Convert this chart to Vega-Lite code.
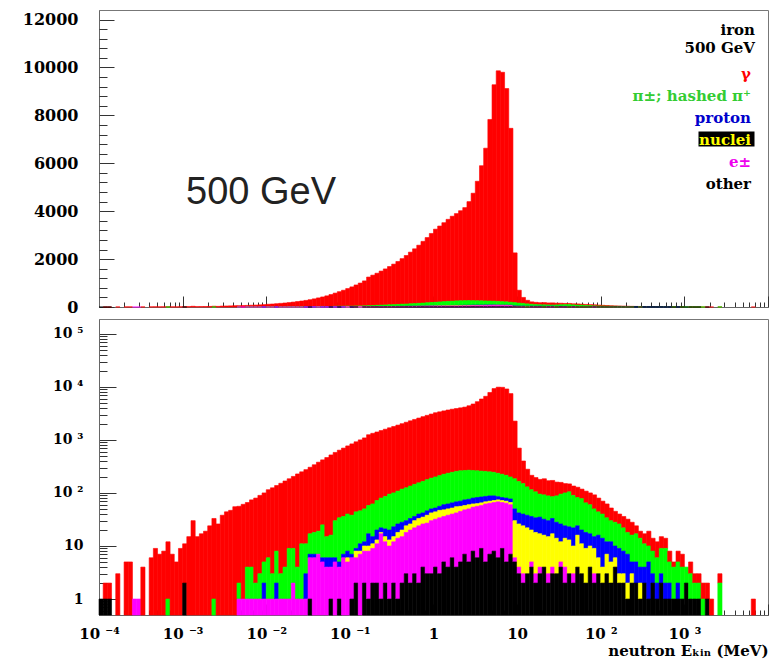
{
  "$schema": "https://vega.github.io/schema/vega-lite/v6.json",
  "padding": {"left": 21, "top": 9, "right": 4, "bottom": 2},
  "background": "white",
  "bounds": "flush",
  "spacing": 12,
  "config": {
    "view": {"stroke": "#777", "strokeWidth": 1},
    "axis": {"grid": false, "domainColor": "#666", "tickColor": "#333", "tickWidth": 1, "labelFont": "DejaVu Serif", "labelFontWeight": "bold", "labelColor": "#000", "titleFont": "DejaVu Serif", "titleFontWeight": "bold", "titleColor": "#000", "labelOverlap": false, "labelFlush": false, "labelBound": false}
  },
  "datasets": {
    "ranks": [{"src": "o", "r": 1}, {"src": "e", "r": 2}, {"src": "n", "r": 3}, {"src": "p", "r": 4}, {"src": "pi", "r": 5}, {"src": "g", "r": 6}],
    "hist": [
      {"lo":1e-4,"hi":1.122e-4,"g":0,"pi":0,"p":0,"n":0,"e":0,"o":1},
      {"lo":1.122e-4,"hi":1.259e-4,"g":1,"pi":0,"p":0,"n":0,"e":0,"o":1},
      {"lo":1.259e-4,"hi":1.413e-4,"g":1,"pi":0,"p":0,"n":0,"e":0,"o":1},
      {"lo":1.585e-4,"hi":1.778e-4,"g":3,"pi":0,"p":0,"n":0,"e":0,"o":0},
      {"lo":1.995e-4,"hi":2.239e-4,"g":5,"pi":0,"p":0,"n":0,"e":0,"o":0},
      {"lo":2.239e-4,"hi":2.512e-4,"g":5,"pi":0,"p":0,"n":0,"e":0,"o":0},
      {"lo":2.512e-4,"hi":2.818e-4,"g":0,"pi":0,"p":0,"n":0,"e":1,"o":0},
      {"lo":2.818e-4,"hi":3.162e-4,"g":0,"pi":0,"p":0,"n":0,"e":1,"o":0},
      {"lo":3.162e-4,"hi":3.548e-4,"g":4,"pi":0,"p":0,"n":0,"e":0,"o":0},
      {"lo":3.981e-4,"hi":4.467e-4,"g":6,"pi":0,"p":0,"n":0,"e":0,"o":0},
      {"lo":4.467e-4,"hi":5.012e-4,"g":9,"pi":0,"p":0,"n":0,"e":0,"o":0},
      {"lo":5.012e-4,"hi":5.623e-4,"g":7,"pi":0,"p":0,"n":0,"e":0,"o":0},
      {"lo":5.623e-4,"hi":6.31e-4,"g":8,"pi":0,"p":0,"n":0,"e":0,"o":0},
      {"lo":6.31e-4,"hi":7.079e-4,"g":11,"pi":1,"p":0,"n":0,"e":0,"o":0},
      {"lo":7.079e-4,"hi":7.943e-4,"g":7,"pi":0,"p":0,"n":0,"e":0,"o":0},
      {"lo":7.943e-4,"hi":8.913e-4,"g":5,"pi":0,"p":0,"n":0,"e":0,"o":0},
      {"lo":8.913e-4,"hi":1e-3,"g":9,"pi":0,"p":0,"n":0,"e":0,"o":0},
      {"lo":1e-3,"hi":1.122e-3,"g":9,"pi":0,"p":0,"n":0,"e":0,"o":2},
      {"lo":1.122e-3,"hi":1.259e-3,"g":15,"pi":0,"p":0,"n":0,"e":0,"o":0},
      {"lo":1.259e-3,"hi":1.413e-3,"g":30,"pi":0,"p":0,"n":0,"e":0,"o":0},
      {"lo":1.413e-3,"hi":1.585e-3,"g":15,"pi":0,"p":0,"n":0,"e":0,"o":0},
      {"lo":1.585e-3,"hi":1.778e-3,"g":17,"pi":0,"p":0,"n":0,"e":0,"o":0},
      {"lo":1.778e-3,"hi":1.995e-3,"g":19,"pi":0,"p":0,"n":0,"e":0,"o":0},
      {"lo":1.995e-3,"hi":2.239e-3,"g":24,"pi":0,"p":0,"n":0,"e":0,"o":0},
      {"lo":2.239e-3,"hi":2.512e-3,"g":32,"pi":1,"p":0,"n":0,"e":0,"o":0},
      {"lo":2.512e-3,"hi":2.818e-3,"g":26,"pi":0,"p":0,"n":0,"e":0,"o":0},
      {"lo":2.818e-3,"hi":3.162e-3,"g":38,"pi":0,"p":0,"n":0,"e":0,"o":0},
      {"lo":3.162e-3,"hi":3.548e-3,"g":44,"pi":0,"p":0,"n":0,"e":0,"o":0},
      {"lo":3.548e-3,"hi":3.981e-3,"g":47,"pi":0,"p":0,"n":0,"e":0,"o":0},
      {"lo":3.981e-3,"hi":4.467e-3,"g":55,"pi":0,"p":0,"n":0,"e":0,"o":0},
      {"lo":4.467e-3,"hi":5.012e-3,"g":54,"pi":1,"p":0,"n":0,"e":1,"o":0},
      {"lo":5.012e-3,"hi":5.623e-3,"g":60,"pi":0,"p":0,"n":0,"e":1,"o":0},
      {"lo":5.623e-3,"hi":6.31e-3,"g":62,"pi":3,"p":0,"n":0,"e":1,"o":0},
      {"lo":6.31e-3,"hi":7.079e-3,"g":70,"pi":3,"p":0,"n":0,"e":1,"o":0},
      {"lo":7.079e-3,"hi":7.943e-3,"g":78,"pi":1,"p":0,"n":0,"e":1,"o":0},
      {"lo":7.943e-3,"hi":8.913e-3,"g":87,"pi":2,"p":0,"n":0,"e":1,"o":0},
      {"lo":8.913e-3,"hi":1e-2,"g":95,"pi":3,"p":1,"n":0,"e":1,"o":0},
      {"lo":1e-2,"hi":1.122e-2,"g":109,"pi":5,"p":0,"n":0,"e":1,"o":0},
      {"lo":1.122e-2,"hi":1.259e-2,"g":122,"pi":2,"p":0,"n":0,"e":1,"o":0},
      {"lo":1.259e-2,"hi":1.413e-2,"g":130,"pi":6,"p":1,"n":0,"e":1,"o":0},
      {"lo":1.413e-2,"hi":1.585e-2,"g":149,"pi":2,"p":0,"n":0,"e":1,"o":0},
      {"lo":1.585e-2,"hi":1.778e-2,"g":164,"pi":3,"p":0,"n":0,"e":1,"o":0},
      {"lo":1.778e-2,"hi":1.995e-2,"g":176,"pi":8,"p":0,"n":0,"e":1,"o":0},
      {"lo":1.995e-2,"hi":2.239e-2,"g":196,"pi":7,"p":0,"n":0,"e":2,"o":0},
      {"lo":2.239e-2,"hi":2.512e-2,"g":224,"pi":3,"p":0,"n":0,"e":1,"o":0},
      {"lo":2.512e-2,"hi":2.818e-2,"g":239,"pi":10,"p":0,"n":0,"e":1,"o":0},
      {"lo":2.818e-2,"hi":3.162e-2,"g":264,"pi":8,"p":2,"n":0,"e":1,"o":0},
      {"lo":3.162e-2,"hi":3.548e-2,"g":288,"pi":10,"p":1,"n":0,"e":5,"o":1},
      {"lo":3.548e-2,"hi":3.981e-2,"g":322,"pi":11,"p":1,"n":0,"e":6,"o":0},
      {"lo":3.981e-2,"hi":4.467e-2,"g":361,"pi":12,"p":0,"n":0,"e":7,"o":0},
      {"lo":4.467e-2,"hi":5.012e-2,"g":395,"pi":19,"p":1,"n":0,"e":5,"o":0},
      {"lo":5.012e-2,"hi":5.623e-2,"g":450,"pi":9,"p":2,"n":0,"e":4,"o":0},
      {"lo":5.623e-2,"hi":6.31e-2,"g":504,"pi":10,"p":2,"n":0,"e":3,"o":1},
      {"lo":6.31e-2,"hi":7.079e-2,"g":550,"pi":24,"p":1,"n":0,"e":5,"o":0},
      {"lo":7.079e-2,"hi":7.943e-2,"g":606,"pi":29,"p":1,"n":0,"e":3,"o":1},
      {"lo":7.943e-2,"hi":8.913e-2,"g":664,"pi":29,"p":1,"n":0,"e":6,"o":0},
      {"lo":8.913e-2,"hi":0.1,"g":730,"pi":32,"p":2,"n":1,"e":5,"o":0},
      {"lo":0.1,"hi":0.1122,"g":802,"pi":31,"p":1,"n":0,"e":5,"o":1},
      {"lo":0.1122,"hi":0.1259,"g":876,"pi":35,"p":1,"n":2,"e":4,"o":2},
      {"lo":0.1259,"hi":0.1413,"g":954,"pi":35,"p":3,"n":1,"e":7,"o":0},
      {"lo":0.1413,"hi":0.1585,"g":1040,"pi":38,"p":2,"n":2,"e":6,"o":2},
      {"lo":0.1585,"hi":0.1778,"g":1192,"pi":41,"p":7,"n":2,"e":7,"o":1},
      {"lo":0.1778,"hi":0.1995,"g":1268,"pi":47,"p":4,"n":2,"e":7,"o":2},
      {"lo":0.1995,"hi":0.2239,"g":1338,"pi":52,"p":7,"n":2,"e":9,"o":2},
      {"lo":0.2239,"hi":0.2512,"g":1420,"pi":58,"p":4,"n":1,"e":16,"o":1},
      {"lo":0.2512,"hi":0.2818,"g":1504,"pi":65,"p":6,"n":3,"e":10,"o":2},
      {"lo":0.2818,"hi":0.3162,"g":1595,"pi":75,"p":7,"n":3,"e":9,"o":1},
      {"lo":0.3162,"hi":0.3548,"g":1690,"pi":77,"p":8,"n":3,"e":10,"o":2},
      {"lo":0.3548,"hi":0.3981,"g":1792,"pi":82,"p":8,"n":4,"e":13,"o":1},
      {"lo":0.3981,"hi":0.4467,"g":1902,"pi":90,"p":8,"n":5,"e":13,"o":2},
      {"lo":0.4467,"hi":0.5012,"g":2025,"pi":95,"p":6,"n":6,"e":15,"o":3},
      {"lo":0.5012,"hi":0.5623,"g":2155,"pi":102,"p":7,"n":6,"e":18,"o":2},
      {"lo":0.5623,"hi":0.631,"g":2285,"pi":109,"p":6,"n":8,"e":19,"o":3},
      {"lo":0.631,"hi":0.7079,"g":2425,"pi":115,"p":7,"n":9,"e":22,"o":2},
      {"lo":0.7079,"hi":0.7943,"g":2575,"pi":123,"p":7,"n":9,"e":22,"o":4},
      {"lo":0.7943,"hi":0.8913,"g":2722,"pi":132,"p":8,"n":11,"e":24,"o":3},
      {"lo":0.8913,"hi":1,"g":2880,"pi":140,"p":8,"n":12,"e":27,"o":3},
      {"lo":1,"hi":1.122,"g":3050,"pi":148,"p":8,"n":12,"e":28,"o":4},
      {"lo":1.122,"hi":1.259,"g":3168,"pi":156,"p":9,"n":13,"e":31,"o":3},
      {"lo":1.259,"hi":1.413,"g":3295,"pi":165,"p":12,"n":12,"e":31,"o":5},
      {"lo":1.413,"hi":1.585,"g":3425,"pi":173,"p":12,"n":12,"e":34,"o":4},
      {"lo":1.585,"hi":1.778,"g":3545,"pi":180,"p":13,"n":12,"e":34,"o":6},
      {"lo":1.778,"hi":1.995,"g":3645,"pi":187,"p":13,"n":13,"e":38,"o":4},
      {"lo":1.995,"hi":2.239,"g":3758,"pi":192,"p":14,"n":11,"e":40,"o":5},
      {"lo":2.239,"hi":2.512,"g":3885,"pi":191,"p":16,"n":10,"e":41,"o":7},
      {"lo":2.512,"hi":2.818,"g":4132,"pi":192,"p":16,"n":10,"e":45,"o":5},
      {"lo":2.818,"hi":3.162,"g":4485,"pi":185,"p":18,"n":8,"e":46,"o":8},
      {"lo":3.162,"hi":3.548,"g":4988,"pi":180,"p":19,"n":7,"e":50,"o":6},
      {"lo":3.548,"hi":3.981,"g":5642,"pi":174,"p":19,"n":7,"e":49,"o":9},
      {"lo":3.981,"hi":4.467,"g":6375,"pi":169,"p":18,"n":6,"e":57,"o":5},
      {"lo":4.467,"hi":5.012,"g":7580,"pi":162,"p":18,"n":6,"e":57,"o":7},
      {"lo":5.012,"hi":5.623,"g":9035,"pi":157,"p":16,"n":6,"e":58,"o":8},
      {"lo":5.623,"hi":6.31,"g":9625,"pi":150,"p":11,"n":6,"e":62,"o":6},
      {"lo":6.31,"hi":7.079,"g":9575,"pi":143,"p":10,"n":6,"e":57,"o":9},
      {"lo":7.079,"hi":7.943,"g":8905,"pi":135,"p":10,"n":6,"e":59,"o":5},
      {"lo":7.943,"hi":8.913,"g":7260,"pi":123,"p":11,"n":6,"e":53,"o":7},
      {"lo":8.913,"hi":10,"g":2075,"pi":135,"p":20,"n":24,"e":1,"o":5},
      {"lo":10,"hi":11.22,"g":535,"pi":123,"p":16,"n":22,"e":1,"o":3},
      {"lo":11.22,"hi":12.59,"g":250,"pi":110,"p":16,"n":21,"e":1,"o":2},
      {"lo":12.59,"hi":14.13,"g":150,"pi":92,"p":16,"n":19,"e":0,"o":3},
      {"lo":14.13,"hi":15.85,"g":100,"pi":79,"p":16,"n":15,"e":1,"o":4},
      {"lo":15.85,"hi":17.78,"g":90,"pi":71,"p":16,"n":15,"e":1,"o":2},
      {"lo":17.78,"hi":19.95,"g":85,"pi":60,"p":18,"n":13,"e":1,"o":3},
      {"lo":19.95,"hi":22.39,"g":93,"pi":60,"p":16,"n":12,"e":0,"o":4},
      {"lo":22.39,"hi":25.12,"g":82,"pi":58,"p":15,"n":12,"e":1,"o":2},
      {"lo":25.12,"hi":28.18,"g":87,"pi":52,"p":16,"n":13,"e":1,"o":3},
      {"lo":28.18,"hi":31.62,"g":72,"pi":60,"p":14,"n":11,"e":0,"o":3},
      {"lo":31.62,"hi":35.48,"g":63,"pi":69,"p":14,"n":7,"e":1,"o":4},
      {"lo":35.48,"hi":39.81,"g":50,"pi":76,"p":10,"n":10,"e":2,"o":2},
      {"lo":39.81,"hi":44.67,"g":43,"pi":82,"p":10,"n":10,"e":0,"o":3},
      {"lo":44.67,"hi":50.12,"g":45,"pi":68,"p":12,"n":7,"e":1,"o":2},
      {"lo":50.12,"hi":56.23,"g":46,"pi":58,"p":8,"n":12,"e":0,"o":4},
      {"lo":56.23,"hi":63.1,"g":40,"pi":58,"p":9,"n":8,"e":0,"o":3},
      {"lo":63.1,"hi":70.79,"g":43,"pi":47,"p":9,"n":7,"e":0,"o":2},
      {"lo":70.79,"hi":79.43,"g":40,"pi":43,"p":7,"n":6,"e":0,"o":4},
      {"lo":79.43,"hi":89.13,"g":42,"pi":35,"p":6,"n":6,"e":1,"o":2},
      {"lo":89.13,"hi":100,"g":36,"pi":28,"p":10,"n":3,"e":0,"o":3},
      {"lo":100,"hi":112.2,"g":30,"pi":26,"p":10,"n":2,"e":0,"o":2},
      {"lo":112.2,"hi":125.9,"g":28,"pi":22,"p":5,"n":4,"e":0,"o":3},
      {"lo":125.9,"hi":141.3,"g":22,"pi":18,"p":7,"n":3,"e":0,"o":2},
      {"lo":141.3,"hi":158.5,"g":17,"pi":18,"p":4,"n":2,"e":0,"o":4},
      {"lo":158.5,"hi":177.8,"g":14,"pi":17,"p":6,"n":1,"e":0,"o":2},
      {"lo":177.8,"hi":199.5,"g":14,"pi":14,"p":5,"n":1,"e":0,"o":2},
      {"lo":199.5,"hi":223.9,"g":14,"pi":11,"p":5,"n":1,"e":0,"o":1},
      {"lo":223.9,"hi":251.2,"g":12,"pi":11,"p":2,"n":1,"e":0,"o":2},
      {"lo":251.2,"hi":281.8,"g":7,"pi":12,"p":3,"n":0,"e":0,"o":2},
      {"lo":281.8,"hi":316.2,"g":5,"pi":10,"p":2,"n":1,"e":0,"o":1},
      {"lo":316.2,"hi":354.8,"g":6,"pi":7,"p":2,"n":0,"e":0,"o":2},
      {"lo":354.8,"hi":398.1,"g":9,"pi":5,"p":4,"n":0,"e":0,"o":1},
      {"lo":398.1,"hi":446.7,"g":6,"pi":5,"p":1,"n":0,"e":0,"o":2},
      {"lo":446.7,"hi":501.2,"g":6,"pi":4,"p":1,"n":0,"e":0,"o":1},
      {"lo":501.2,"hi":562.3,"g":6,"pi":6,"p":1,"n":0,"e":0,"o":2},
      {"lo":562.3,"hi":631,"g":5,"pi":7,"p":1,"n":0,"e":0,"o":1},
      {"lo":631,"hi":707.9,"g":3,"pi":3,"p":1,"n":0,"e":0,"o":1},
      {"lo":707.9,"hi":794.3,"g":1,"pi":3,"p":0,"n":0,"e":0,"o":1},
      {"lo":794.3,"hi":891.3,"g":3,"pi":3,"p":1,"n":0,"e":0,"o":1},
      {"lo":891.3,"hi":1000,"g":3,"pi":3,"p":0,"n":0,"e":0,"o":1},
      {"lo":1000,"hi":1122,"g":0,"pi":2,"p":0,"n":0,"e":0,"o":2},
      {"lo":1122,"hi":1259,"g":2,"pi":2,"p":0,"n":0,"e":0,"o":1},
      {"lo":1259,"hi":1413,"g":1,"pi":1,"p":0,"n":0,"e":0,"o":1},
      {"lo":1413,"hi":1585,"g":1,"pi":1,"p":0,"n":0,"e":0,"o":1},
      {"lo":1585,"hi":1778,"g":1,"pi":1,"p":0,"n":0,"e":0,"o":0},
      {"lo":1778,"hi":1995,"g":1,"pi":0,"p":0,"n":0,"e":0,"o":1},
      {"lo":1995,"hi":2239,"g":1,"pi":0,"p":0,"n":0,"e":0,"o":0},
      {"lo":2512,"hi":2818,"g":1,"pi":2,"p":0,"n":0,"e":0,"o":0},
      {"lo":6310,"hi":7079,"g":1,"pi":0,"p":0,"n":0,"e":0,"o":0}
    ]
  },
  "data": {"name": "hist"},
  "transform": [
    {"fold": ["g", "pi", "p", "n", "e", "o"], "as": ["src", "count"]},
    {"filter": "datum.count > 0"},
    {"lookup": "src", "from": {"data": {"name": "ranks"}, "key": "src", "fields": ["r"]}},
    {"stack": "count", "groupby": ["lo"], "sort": [{"field": "r", "order": "ascending"}], "as": ["c0", "c1"]}
  ],
  "vconcat": [
    {
      "width": 669,
      "height": 297,
      "resolve": {"axis": {"y": "independent"}},
      "layer": [
        {
          "mark": {"type": "rect", "strokeWidth": 0.6,
            "fill": {"expr": "{'g':'#ff0000','pi':'#00ff00','p':'#0000ff','n':'#ffff00','e':'#ff00ff','o':'#000000'}[datum.src]"},
            "stroke": {"expr": "{'g':'#ff0000','pi':'#00ff00','p':'#0000ff','n':'#ffff00','e':'#ff00ff','o':'#000000'}[datum.src]"}},
          "encoding": {
            "x": {"field": "lo", "type": "quantitative", "scale": {"type": "log", "domain": [1e-4, 1e4], "nice": false},
              "axis": {"values": [1e-4,2e-4,3e-4,4e-4,5e-4,6e-4,7e-4,8e-4,9e-4,1e-3,2e-3,3e-3,4e-3,5e-3,6e-3,7e-3,8e-3,9e-3,0.01,0.02,0.03,0.04,0.05,0.06,0.07,0.08,0.09,0.1,0.2,0.3,0.4,0.5,0.6,0.7,0.8,0.9,1,2,3,4,5,6,7,8,9,10,20,30,40,50,60,70,80,90,100,200,300,400,500,600,700,800,900,1000,2000,3000,4000,5000,6000,7000,8000,9000,10000],
                "labels": false, "title": null, "labelOverlap": false,
                "tickSize": {"condition": {"test": "abs(log(datum.value)/LN10 - round(log(datum.value)/LN10)) < 0.01", "value": -11}, "value": -5}}},
            "x2": {"field": "hi"},
            "y": {"field": "c1", "type": "quantitative", "scale": {"domain": [0, 12400], "nice": false},
              "axis": {"orient": "left", "values": [0,2000,4000,6000,8000,10000,12000],
                "format": "d", "labelOverlap": false,
                "labelFontSize": 16, "labelPadding": 36, "title": null, "tickSize": -15}},
            "y2": {"field": "c0"}
          }
        },
        {
          "data": {"values": [{"label": "500 GeV"}]},
          "mark": {"type": "text", "font": "Liberation Sans", "fontSize": 38, "align": "center", "baseline": "alphabetic", "color": "#222"},
          "encoding": {
            "x": {"datum": 0.00867, "type": "quantitative"},
            "y": {"datum": 4290, "type": "quantitative",
              "axis": {"orient": "left", "values": [400,800,1200,1600,2400,2800,3200,3600,4400,4800,5200,5600,6400,6800,7200,7600,8400,8800,9200,9600,10400,10800,11200,11600],
                "labels": false, "domain": false, "title": null, "tickSize": -8}},
            "text": {"field": "label"}
          }
        },
        {
          "data": {"name": "ranks"},
          "mark": {"type": "text", "text": ""},
          "encoding": {
            "color": {"field": "src", "type": "nominal",
              "scale": {"domain": ["g", "pi", "p", "n", "e", "o"], "range": ["#ff0000", "#00ff00", "#0000ff", "#000000", "#ff00ff", "#000000"]},
              "legend": {
                "orient": "top-right", "offset": 13, "padding": 0,
                "title": ["iron", "500 GeV"],
                "titleFont": "DejaVu Serif", "titleFontWeight": "bold", "titleFontSize": 15, "titleColor": "#000",
                "titleAlign": "right", "titleAnchor": "end", "titleLineHeight": 18, "titlePadding": 10, "titleLimit": 300,
                "labelFont": "DejaVu Serif", "labelFontWeight": "bold", "labelFontSize": 15, "labelAlign": "right", "labelLimit": 300, "labelOffset": 0,
                "symbolType": "M-45,-8H11V7H-45Z", "symbolSize": 4, "symbolStrokeWidth": 0, "rowPadding": 5,
                "labelExpr": "{'g':'γ','pi':'π±; hashed π⁺','p':'proton','n':'nuclei','e':'e±','o':'other'}[datum.value]",
                "encode": {
                  "symbols": {"update": {"fillOpacity": {"signal": "datum.value == 'n' ? 1 : 0"}, "strokeOpacity": {"value": 0}}},
                  "labels": {"update": {"fill": {"signal": "{'g':'#ff0000','pi':'#33cc33','p':'#0000cc','n':'#ffff00','e':'#ee00ee','o':'#000000'}[datum.value]"}}}
                }
              }}
          }
        }
      ]
    },
    {
      "width": 669,
      "height": 296,
      "mark": {"type": "rect", "strokeWidth": 0.6,
        "fill": {"expr": "{'g':'#ff0000','pi':'#00ff00','p':'#0000ff','n':'#ffff00','e':'#ff00ff','o':'#000000'}[datum.src]"},
        "stroke": {"expr": "{'g':'#ff0000','pi':'#00ff00','p':'#0000ff','n':'#ffff00','e':'#ff00ff','o':'#000000'}[datum.src]"}},
      "encoding": {
        "x": {"field": "lo", "type": "quantitative", "scale": {"type": "log", "domain": [1e-4, 1e4], "nice": false},
          "axis": {"values": [1e-4,2e-4,3e-4,4e-4,5e-4,6e-4,7e-4,8e-4,9e-4,1e-3,2e-3,3e-3,4e-3,5e-3,6e-3,7e-3,8e-3,9e-3,0.01,0.02,0.03,0.04,0.05,0.06,0.07,0.08,0.09,0.1,0.2,0.3,0.4,0.5,0.6,0.7,0.8,0.9,1,2,3,4,5,6,7,8,9,10,20,30,40,50,60,70,80,90,100,200,300,400,500,600,700,800,900,1000,2000,3000,4000,5000,6000,7000,8000,9000,10000],
            "labelExpr": "abs(log(datum.value)/LN10 - round(log(datum.value)/LN10)) < 0.01 ? ['10 ⁻⁴','10 ⁻³','10 ⁻²','10 ⁻¹','1','10','10 ²','10 ³',''][round(log(datum.value)/LN10)+4] : ''",
            "labelFontSize": 15, "labelPadding": 22, "labelOverlap": false,
            "tickSize": {"condition": {"test": "abs(log(datum.value)/LN10 - round(log(datum.value)/LN10)) < 0.01", "value": -11}, "value": -5},
            "title": "neutron Eₖᵢₙ (MeV)", "titleFontSize": 15, "titleAnchor": "end", "titleAlign": "right", "titlePadding": -4}},
        "x2": {"field": "hi"},
        "y": {"field": "c1", "type": "quantitative", "scale": {"type": "log", "domain": [0.5, 190000], "nice": false, "clamp": true},
          "axis": {"values": [0.6,0.7,0.8,0.9,1,2,3,4,5,6,7,8,9,10,20,30,40,50,60,70,80,90,100,200,300,400,500,600,700,800,900,1000,2000,3000,4000,5000,6000,7000,8000,9000,10000,20000,30000,40000,50000,60000,70000,80000,90000,100000],
            "labelExpr": "abs(log(datum.value)/LN10 - round(log(datum.value)/LN10)) < 0.01 ? ['1','10','10 ²','10 ³','10 ⁴','10 ⁵'][round(log(datum.value)/LN10)] : ''",
            "labelFontSize": 14, "labelPadding": 33, "title": null, "labelOverlap": false,
            "tickSize": {"condition": {"test": "abs(log(datum.value)/LN10 - round(log(datum.value)/LN10)) < 0.01", "value": -17}, "value": -8}}},
        "y2": {"field": "c0"}
      }
    }
  ]
}
